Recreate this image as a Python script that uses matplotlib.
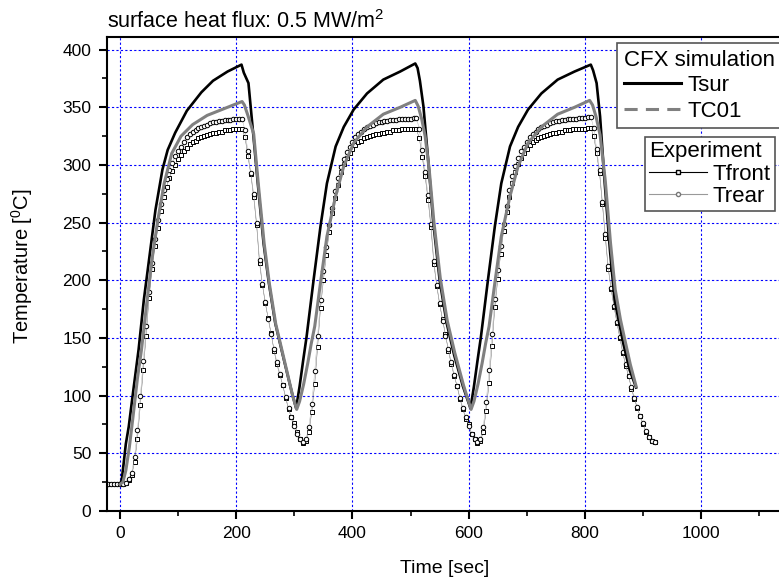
import numpy as np
import matplotlib.pyplot as plt
from matplotlib.lines import Line2D
from matplotlib.ticker import MultipleLocator

plt.rcParams['font.family'] = ['Liberation Sans', 'DejaVu Sans']
plt.rcParams['mathtext.default'] = 'regular'

# CFX simulation, surface temperature
t_sur = [0, 3, 6, 10, 15, 23, 32, 41, 50, 61, 73, 82, 95, 115, 140, 160, 185, 209,
         213, 221, 229, 238, 247, 256, 267, 282, 296, 303,
         309, 315, 321, 333, 345, 356, 371, 385, 402, 425, 453, 482, 508,
         512, 516, 522, 531, 539, 550, 562, 575, 590, 603,
         609, 615, 621, 633, 645, 656, 671, 685, 702, 725, 753, 782, 810,
         814, 820, 826, 834, 843, 851, 866, 877, 888]
T_sur = [23, 27, 40, 58, 73, 105, 140, 183, 218, 261, 296, 313, 328, 347, 363, 373, 381, 387,
         380, 371, 328, 279, 232, 198, 163, 131, 102, 89,
         108, 130, 151, 200, 247, 284, 316, 333, 348, 362, 374, 381, 388,
         384, 373, 351, 300, 250, 200, 163, 135, 108, 89,
         108, 130, 151, 200, 247, 284, 316, 333, 348, 362, 374, 381, 387,
         382, 371, 342, 284, 226, 183, 145, 122, 107]

# CFX simulation, thermocouple TC01
t_tc01 = [0, 5, 10, 16, 22, 30, 37, 46, 55, 65, 76, 89, 105, 125, 150, 180, 210,
          214, 220, 230, 239, 248, 257, 268, 283, 297, 304,
          309, 316, 323, 329, 335, 345, 356, 371, 385, 402, 425, 453, 482, 508,
          513, 519, 525, 532, 540, 551, 563, 576, 591, 604,
          609, 616, 623, 629, 635, 645, 656, 671, 685, 702, 725, 753, 782, 808,
          813, 819, 826, 835, 844, 852, 861, 867, 878, 888]
T_tc01 = [23, 25, 35, 55, 80, 115, 140, 180, 218, 252, 284, 310, 325, 335, 343, 349, 355,
          352, 343, 327, 278, 232, 197, 162, 130, 100, 88,
          95, 110, 128, 145, 160, 198, 238, 273, 299, 319, 333, 344, 350, 356,
          351, 340, 325, 296, 251, 202, 165, 137, 109, 88,
          95, 110, 128, 145, 160, 198, 238, 273, 299, 319, 333, 344, 350, 356,
          352, 342, 326, 286, 232, 192, 166, 152, 127, 108]

# experiment, one value every 5 s starting at -20 s
t_exp = np.arange(-20, 921, 5)
T_front = [23, 23, 23, 23, 23, 23, 24, 27, 31, 42,
           62, 92, 122, 152, 185, 210, 230, 245, 260, 272,
           281, 289, 295, 300, 305, 309, 312, 315, 318, 320,
           321, 323, 324, 325, 326, 327, 328, 328, 329, 329,
           330, 330, 330, 331, 331, 331, 331, 324, 308, 292,
           272, 248, 215, 196, 180, 167, 154, 139, 127, 118,
           109, 98, 88, 81, 76, 68, 62, 59, 61, 68,
           86, 110, 142, 176, 200, 222, 242, 258, 271, 283,
           294, 301, 306, 310, 314, 317, 320, 321, 323, 324,
           325, 326, 327, 327, 328, 328, 329, 329, 330, 330,
           330, 331, 331, 331, 331, 331, 331, 323, 307, 290,
           270, 246, 214, 195, 179, 166, 153, 139, 127, 117,
           108, 97, 88, 80, 75, 67, 62, 59, 61, 68,
           87, 111, 143, 177, 201, 223, 243, 259, 272, 284,
           294, 301, 306, 310, 314, 317, 320, 322, 323, 324,
           325, 326, 327, 328, 328, 329, 329, 330, 330, 330,
           331, 331, 331, 331, 331, 332, 332, 325, 310, 293,
           266, 237, 210, 192, 177, 163, 150, 137, 126, 117,
           106, 97, 89, 82, 75, 68, 64, 61, 60]
T_rear = [23, 23, 23, 23, 23, 23, 24, 28, 33, 47,
          70, 100, 130, 160, 190, 215, 236, 252, 266, 278,
          288, 296, 302, 308, 312, 316, 320, 324, 327, 329,
          330, 332, 333, 334, 335, 336, 337, 337, 338, 338,
          339, 339, 339, 340, 340, 340, 340, 330, 312, 293,
          275, 250, 218, 197, 181, 166, 153, 140, 129, 119,
          109, 99, 89, 81, 74, 67, 62, 60, 62, 73,
          93, 121, 152, 183, 208, 229, 248, 263, 277, 289,
          298, 305, 311, 316, 320, 324, 327, 329, 331, 333,
          334, 335, 336, 337, 337, 338, 338, 339, 339, 339,
          340, 340, 340, 340, 340, 341, 341, 331, 313, 294,
          274, 249, 217, 196, 180, 165, 152, 140, 129, 118,
          108, 98, 89, 81, 74, 67, 62, 60, 62, 73,
          94, 122, 153, 184, 209, 230, 249, 264, 278, 290,
          299, 306, 312, 316, 320, 324, 327, 329, 331, 333,
          334, 335, 336, 337, 338, 338, 339, 339, 340, 340,
          340, 340, 341, 341, 341, 342, 342, 332, 314, 296,
          268, 240, 212, 193, 178, 164, 151, 138, 127, 117,
          107, 98, 90, 82, 76, 69, 64, 61, 60]

fig = plt.figure(figsize=(7.79, 5.82), dpi=100)
# axes run past the right edge of the picture, as in the original
ax = fig.add_axes([0.1369, 0.1222, 0.905, 0.8143])

ax.plot(t_exp, T_front, '-', color='#555555', lw=0.3, marker='s', ms=3,
        mfc='white', mec='black', mew=0.7)
ax.plot(t_exp, T_rear, '-', color='#aaaaaa', lw=0.3, marker='o', ms=3.2,
        mfc='white', mec='black', mew=0.7)
ax.plot(t_sur, T_sur, color='black', lw=1.9)
ax.plot(t_tc01, T_tc01, color='#808080', lw=2.2)

ax.set_xlim(-23, 1190)
ax.set_ylim(0, 411)
ax.xaxis.set_major_locator(MultipleLocator(200))
ax.xaxis.set_minor_locator(MultipleLocator(100))
ax.yaxis.set_major_locator(MultipleLocator(50))
ax.yaxis.set_minor_locator(MultipleLocator(25))
ax.grid(True, which='major', color='blue', ls=(0, (2, 2)), lw=0.8)
ax.tick_params(which='major', direction='out', length=6, width=1.5, labelsize=12.5, pad=5)
ax.tick_params(which='minor', direction='out', length=3.5, width=1.2)
for s in ax.spines.values():
    s.set_linewidth(1.5)

ax.set_xlabel('Time [sec]', fontsize=14)
ax.set_ylabel('Temperature [$^0$C]', fontsize=14.5)
ax.xaxis.set_label_coords(0.48, -0.104)
ax.yaxis.set_label_coords(-0.101, 0.517)

fig.text(107/779, 1 - 28/582, 'surface heat flux: 0.5 MW/m$^2$', fontsize=15.5, va='baseline')

h_sur = Line2D([], [], color='black', lw=2.2)
h_tc = Line2D([], [], color='#808080', lw=2.2, ls=(0, (4.3, 2.7)))
leg1 = ax.legend([h_sur, h_tc], ['Tsur', 'TC01'], title='CFX simulation',
                 loc='upper left', bbox_to_anchor=(617/779, 1 - 43/582),
                 bbox_transform=fig.transFigure, fontsize=16, title_fontsize=16,
                 fancybox=False, edgecolor='#555555', framealpha=1,
                 handlelength=2.6, handletextpad=0.25, borderaxespad=0,
                 alignment='left', labelspacing=0.2, borderpad=0.3)
leg1.get_frame().set_linewidth(1.2)
ax.add_artist(leg1)

h_front = Line2D([], [], color='black', lw=0.8, marker='s', ms=3, mfc='white', mec='black')
h_rear = Line2D([], [], color='#999999', lw=0.8, marker='o', ms=3, mfc='white', mec='#777777')
leg2 = ax.legend([h_front, h_rear], ['Tfront', 'Trear'], title='Experiment',
                 loc='upper left', bbox_to_anchor=(645/779, 1 - 137/582),
                 bbox_transform=fig.transFigure, fontsize=16, title_fontsize=16,
                 fancybox=False, edgecolor='#555555', framealpha=1,
                 handlelength=2.6, handletextpad=0.25, borderaxespad=0,
                 alignment='left', labelspacing=0.05, borderpad=0.2)
leg2.get_frame().set_linewidth(1.2)

fig.savefig('out.png', dpi=100)
